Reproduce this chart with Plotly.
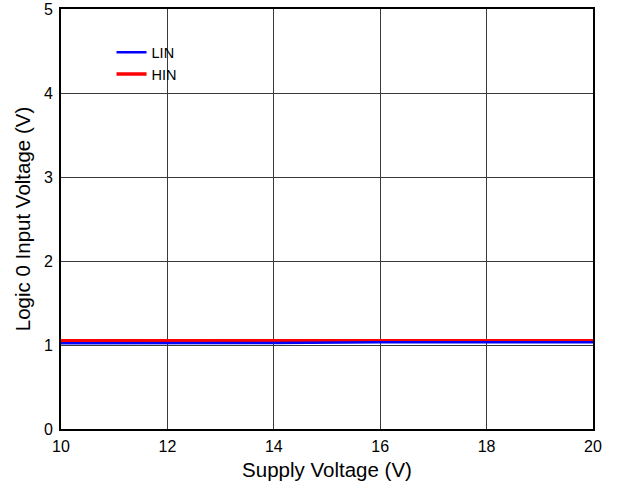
import plotly.graph_objects as go

# Supply voltage sweep (V)
supply_v = [10, 12, 14, 16, 18, 20]
# Logic 0 input threshold (V)
lin_v = [1.022, 1.022, 1.024, 1.032, 1.033, 1.033]
hin_v = [1.05, 1.05, 1.05, 1.052, 1.052, 1.052]

x_ticks = [10, 12, 14, 16, 18, 20]
y_ticks = [0, 1, 2, 3, 4, 5]

fig = go.Figure()
fig.add_trace(go.Scatter(x=supply_v, y=hin_v, mode="lines", name="HIN",
                         line=dict(color="#ff0000", width=3.5)))
fig.add_trace(go.Scatter(x=supply_v, y=lin_v, mode="lines", name="LIN",
                         line=dict(color="#0000ff", width=2.5)))

axis_common = dict(
    showline=True, linecolor="black", linewidth=2, mirror=True,
    showgrid=True, gridcolor="#3a3a3a", gridwidth=1,
    zeroline=False, ticks="", ticklabeloverflow="allow", automargin=False,
    tickfont=dict(family="Liberation Sans, Arial", size=16, color="black"),
)

fig.update_layout(
    width=619, height=494,
    margin=dict(l=61, r=26, t=9, b=65),
    paper_bgcolor="white", plot_bgcolor="white",
    font=dict(family="Liberation Sans, Arial", color="black"),
    xaxis=dict(range=[10, 20], tickvals=x_ticks, ticklabelstandoff=2,
               title=dict(text="Supply Voltage (V)", font=dict(size=20.5), standoff=8),
               **axis_common),
    yaxis=dict(range=[0, 5], tickvals=y_ticks, ticklabelstandoff=3,
               title=dict(text="Logic 0 Input Voltage (V)", font=dict(size=20.5), standoff=8),
               **axis_common),
    legend=dict(x=0.095, y=0.935, xanchor="left", yanchor="top",
                traceorder="reversed", bgcolor="rgba(0,0,0,0)",
                font=dict(size=14.5), tracegroupgap=0),
    showlegend=True,
)

fig.write_html("out.html")
